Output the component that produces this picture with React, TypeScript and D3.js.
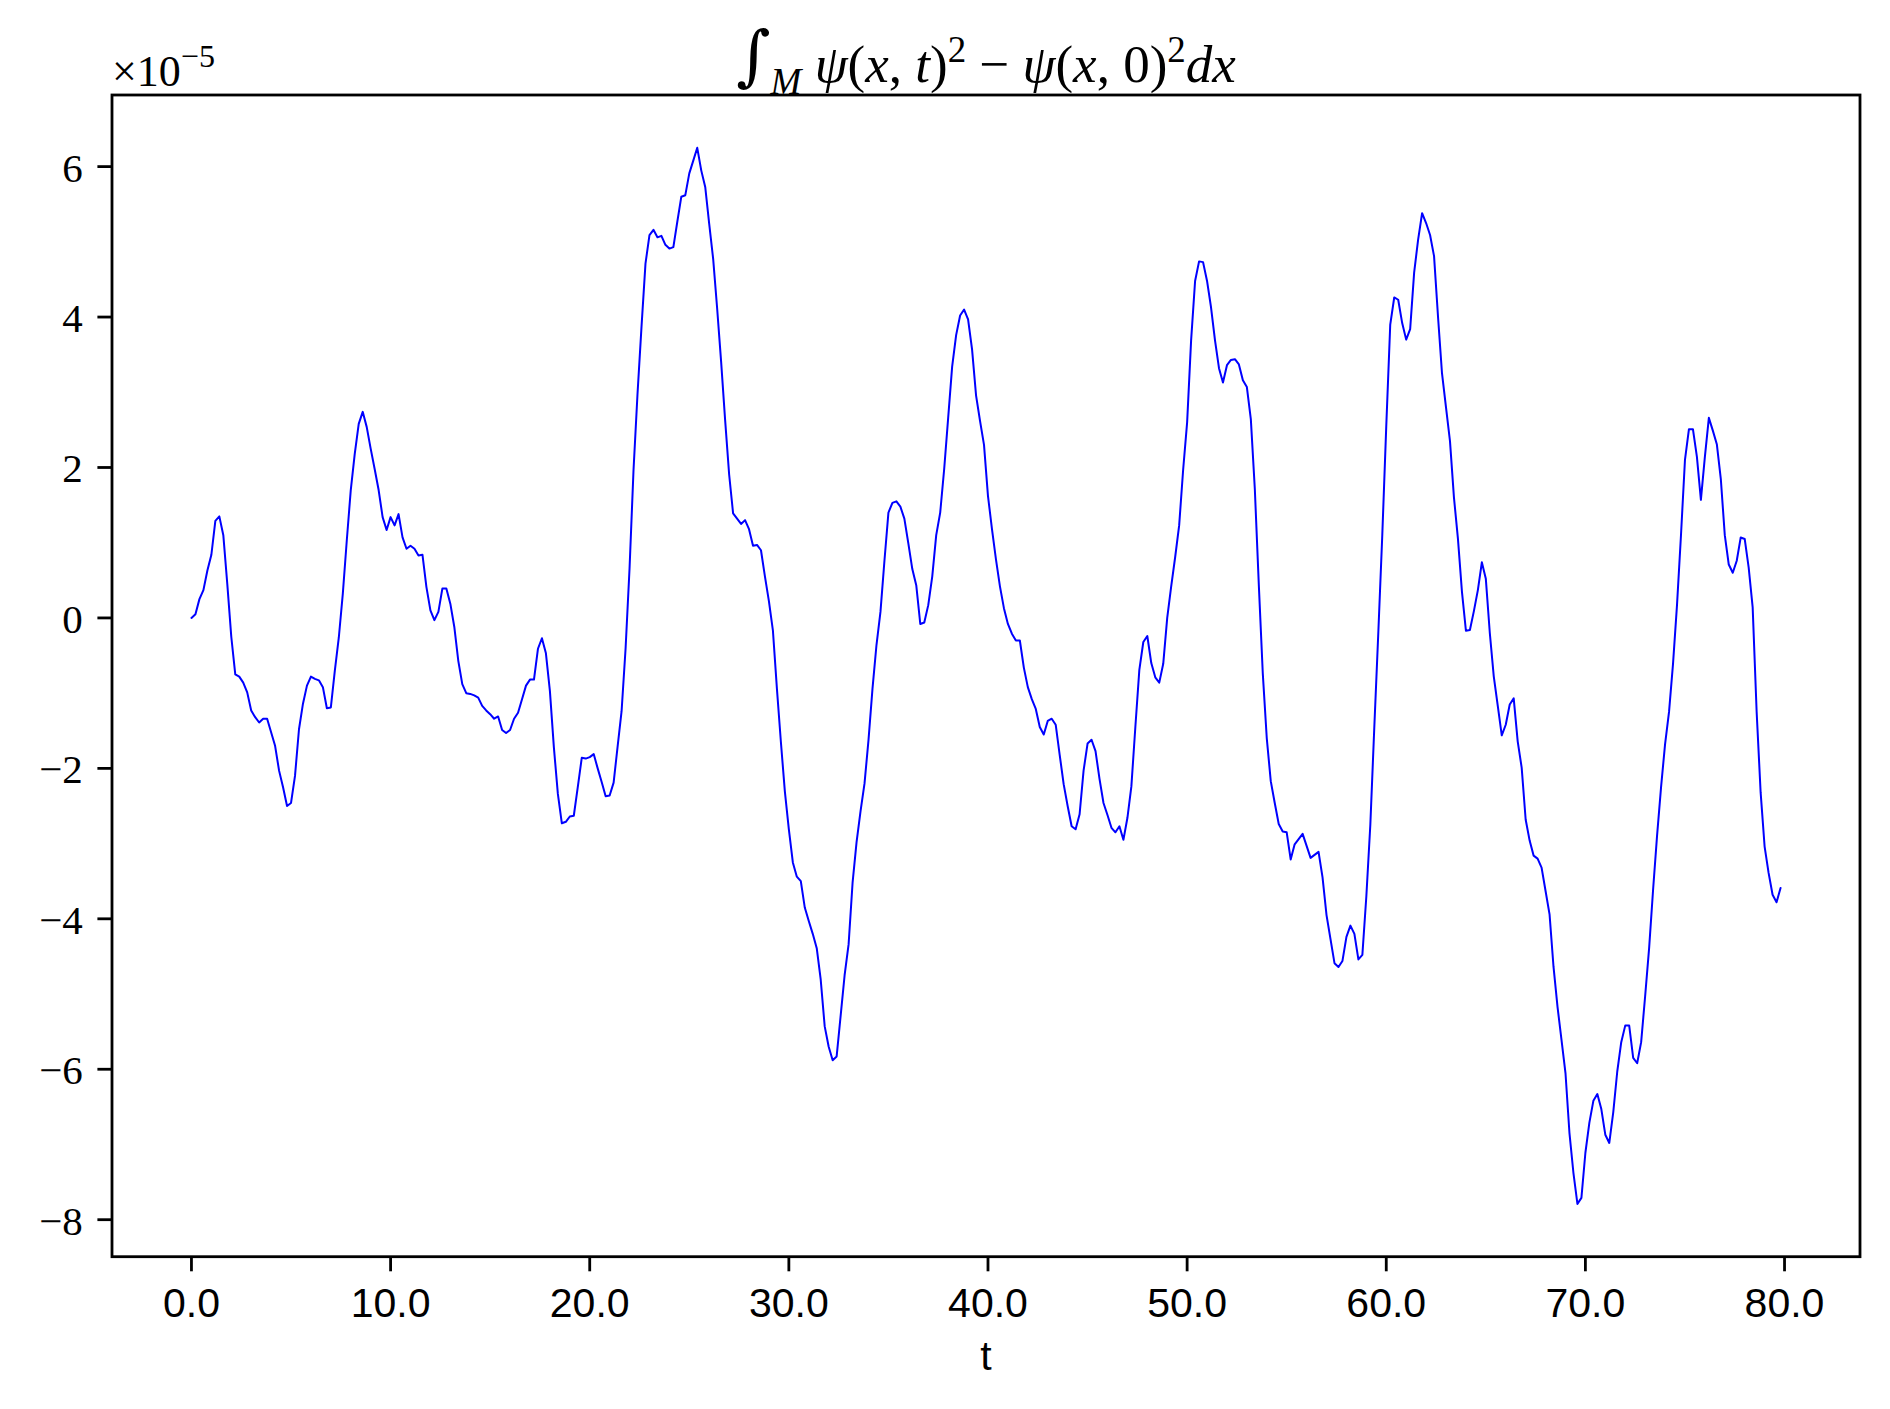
import React, { useEffect } from "react";
import * as d3 from "d3";

// Sampling step of the time series (t = 0.0, 0.2, ..., 79.8)
const T_STEP = 0.2;

// Values (×1e-5), one array per 10 time units
const psi00to10 = [
  0.0, 0.05, 0.25, 0.37, 0.63, 0.84, 1.29, 1.35, 1.1, 0.45,
  -0.25, -0.75, -0.78, -0.86, -0.99, -1.23, -1.32, -1.39, -1.34, -1.34,
  -1.52, -1.7, -2.03, -2.25, -2.5, -2.46, -2.1, -1.48, -1.14, -0.9,
  -0.78, -0.81, -0.83, -0.92, -1.2, -1.19, -0.7, -0.26, 0.32, 1.03,
  1.7, 2.18, 2.58, 2.74, 2.54, 2.25, 1.98, 1.7, 1.34, 1.17,
];
const psi10to20 = [
  1.34, 1.23, 1.38, 1.07, 0.92, 0.96, 0.92, 0.83, 0.84, 0.41,
  0.1, -0.03, 0.08, 0.39, 0.39, 0.19, -0.12, -0.57, -0.88, -1.0,
  -1.01, -1.03, -1.06, -1.17, -1.23, -1.28, -1.34, -1.31, -1.49, -1.53,
  -1.49, -1.34, -1.26, -1.08, -0.9, -0.82, -0.82, -0.41, -0.27, -0.47,
  -0.97, -1.72, -2.34, -2.73, -2.71, -2.64, -2.63, -2.25, -1.86, -1.87,
];
const psi20to30 = [
  -1.85, -1.81, -2.0, -2.18, -2.37, -2.36, -2.19, -1.71, -1.24, -0.41,
  0.66, 1.97, 2.98, 3.87, 4.71, 5.09, 5.16, 5.06, 5.08, 4.96,
  4.91, 4.93, 5.27, 5.6, 5.62, 5.91, 6.08, 6.25, 5.95, 5.73,
  5.24, 4.77, 4.11, 3.4, 2.63, 1.91, 1.39, 1.32, 1.25, 1.3,
  1.18, 0.96, 0.97, 0.9, 0.55, 0.22, -0.17, -0.94, -1.65, -2.31,
];
const psi30to40 = [
  -2.81, -3.25, -3.44, -3.5, -3.85, -4.03, -4.2, -4.39, -4.81, -5.43,
  -5.7, -5.88, -5.83, -5.29, -4.75, -4.34, -3.52, -2.98, -2.57, -2.2,
  -1.62, -0.94, -0.36, 0.08, 0.76, 1.4, 1.53, 1.55, 1.48, 1.32,
  0.99, 0.65, 0.43, -0.08, -0.06, 0.17, 0.55, 1.1, 1.4, 1.98,
  2.66, 3.34, 3.76, 4.02, 4.1, 3.97, 3.57, 2.96, 2.62, 2.3,
];
const psi40to50 = [
  1.62, 1.18, 0.78, 0.42, 0.13, -0.08, -0.21, -0.3, -0.3, -0.66,
  -0.92, -1.08, -1.21, -1.45, -1.55, -1.37, -1.34, -1.42, -1.82, -2.21,
  -2.5, -2.77, -2.81, -2.61, -2.03, -1.67, -1.62, -1.77, -2.14, -2.46,
  -2.62, -2.79, -2.85, -2.77, -2.95, -2.66, -2.24, -1.45, -0.69, -0.32,
  -0.24, -0.6, -0.79, -0.86, -0.61, 0.0, 0.42, 0.81, 1.23, 1.97,
];
const psi50to60 = [
  2.6, 3.69, 4.48, 4.74, 4.73, 4.48, 4.13, 3.69, 3.32, 3.13,
  3.36, 3.43, 3.44, 3.37, 3.16, 3.07, 2.64, 1.71, 0.44, -0.74,
  -1.6, -2.17, -2.46, -2.74, -2.84, -2.85, -3.21, -3.01, -2.94, -2.87,
  -3.03, -3.19, -3.15, -3.11, -3.45, -3.95, -4.27, -4.59, -4.64, -4.56,
  -4.24, -4.09, -4.2, -4.54, -4.48, -3.7, -2.75, -1.45, -0.2, 1.1,
];
const psi60to70 = [
  2.55, 3.9, 4.26, 4.23, 3.92, 3.7, 3.84, 4.59, 5.03, 5.38,
  5.25, 5.09, 4.81, 4.0, 3.25, 2.8, 2.35, 1.6, 1.05, 0.35,
  -0.17, -0.16, 0.09, 0.37, 0.74, 0.52, -0.2, -0.78, -1.17, -1.56,
  -1.42, -1.15, -1.07, -1.64, -1.99, -2.68, -2.96, -3.16, -3.2, -3.32,
  -3.63, -3.94, -4.64, -5.17, -5.61, -6.05, -6.85, -7.38, -7.79, -7.71,
];
const psi70to80 = [
  -7.11, -6.71, -6.42, -6.33, -6.53, -6.87, -6.98, -6.57, -6.03, -5.64,
  -5.42, -5.42, -5.85, -5.92, -5.64, -5.03, -4.39, -3.61, -2.89, -2.25,
  -1.68, -1.25, -0.61, 0.17, 1.1, 2.1, 2.51, 2.51, 2.14, 1.57,
  2.14, 2.66, 2.49, 2.31, 1.85, 1.1, 0.71, 0.6, 0.76, 1.07,
  1.05, 0.67, 0.14, -1.25, -2.32, -3.04, -3.39, -3.68, -3.78, -3.59,
];

const psiValues = [
  ...psi00to10, ...psi10to20, ...psi20to30, ...psi30to40,
  ...psi40to50, ...psi50to60, ...psi60to70, ...psi70to80,
];
const tValues = psiValues.map((_, i) => +(i * T_STEP).toFixed(1));

const xTicks = [0, 10, 20, 30, 40, 50, 60, 70, 80];
const yTicks = [-8, -6, -4, -2, 0, 2, 4, 6];

const W = 1890;
const H = 1409;
const LEFT = 112;
const RIGHT = 1860;
const TOP = 95;
const BOTTOM = 1256.7;
const TICK_LEN = 14.6;
const PAD = 14.6;
const AXIS_W = 2.8;

function padded(ext: [number, number], m = 0.05): [number, number] {
  const r = ext[1] - ext[0];
  return [ext[0] - r * m, ext[1] + r * m];
}

export default function App() {
  useEffect(() => {
    document.body.style.margin = "0";
    document.body.style.background = "white";
  }, []);

  const data = tValues.map((t, i) => ({ t, v: psiValues[i] }));
  const x = d3
    .scaleLinear()
    .domain(padded(d3.extent(tValues) as [number, number]))
    .range([LEFT, RIGHT]);
  const y = d3
    .scaleLinear()
    .domain(padded(d3.extent(psiValues) as [number, number]))
    .range([BOTTOM, TOP]);

  const line = d3
    .line<{ t: number; v: number }>()
    .x((d) => x(d.t))
    .y((d) => y(d.v));

  const fmtX = d3.format(".1f");
  const fmtY = (v: number) => (v < 0 ? "\u2212" + Math.abs(v) : String(v));

  const serif = "'Liberation Serif', 'DejaVu Serif', serif";
  const sans = "'Liberation Sans', Arial, Helvetica, sans-serif";
  const cx = (LEFT + RIGHT) / 2;

  return (
    <svg
      width={W}
      height={H}
      style={{ position: "absolute", left: 0, top: 0, display: "block" }}
    >
      <rect x={0} y={0} width={W} height={H} fill="white" />
      <defs>
        <clipPath id="plotclip">
          <rect x={LEFT} y={TOP} width={RIGHT - LEFT} height={BOTTOM - TOP} />
        </clipPath>
      </defs>
      <path
        d={line(data) || ""}
        fill="none"
        stroke="#0000ff"
        strokeWidth={2}
        strokeLinejoin="round"
        strokeLinecap="round"
        clipPath="url(#plotclip)"
      />
      <rect
        x={LEFT}
        y={TOP}
        width={RIGHT - LEFT}
        height={BOTTOM - TOP}
        fill="none"
        stroke="black"
        strokeWidth={AXIS_W}
      />
      {xTicks.map((t) => (
        <g key={"xt" + t}>
          <line
            x1={x(t)}
            x2={x(t)}
            y1={BOTTOM}
            y2={BOTTOM + TICK_LEN}
            stroke="black"
            strokeWidth={AXIS_W}
          />
          <text
            x={x(t)}
            y={1316.7}
            textAnchor="middle"
            fontFamily={sans}
            fontSize={41}
            fill="black"
          >
            {fmtX(t)}
          </text>
        </g>
      ))}
      {yTicks.map((v) => (
        <g key={"yt" + v}>
          <line
            x1={LEFT - TICK_LEN}
            x2={LEFT}
            y1={y(v)}
            y2={y(v)}
            stroke="black"
            strokeWidth={AXIS_W}
          />
          <text
            x={LEFT - TICK_LEN - PAD}
            y={y(v) + 15}
            textAnchor="end"
            fontFamily={serif}
            fontSize={41}
            fill="black"
          >
            {fmtY(v)}
          </text>
        </g>
      ))}
      <text
        x={cx}
        y={1370}
        textAnchor="middle"
        fontFamily={sans}
        fontSize={41}
        fill="black"
      >
        t
      </text>
      <text x={LEFT} y={86} fontFamily={serif} fontSize={44} fill="black">
        ×10
        <tspan fontSize={32} dy={-19}>
          −5
        </tspan>
      </text>
      <text
        x={cx}
        y={82}
        textAnchor="middle"
        fontFamily={serif}
        fontSize={53}
        fill="black"
      >
        <tspan fontSize={66} dy={-4} fontFamily="'DejaVu Serif', serif">
          ∫
        </tspan>
        <tspan fontStyle="italic" fontSize={37} dy={16}>
          M
        </tspan>
        <tspan dy={-12}> </tspan>
        <tspan fontStyle="italic">ψ</tspan>
        <tspan>(</tspan>
        <tspan fontStyle="italic">x</tspan>
        <tspan>, </tspan>
        <tspan fontStyle="italic">t</tspan>
        <tspan>)</tspan>
        <tspan fontSize={37} dy={-20}>
          2
        </tspan>
        <tspan dy={20}> − </tspan>
        <tspan fontStyle="italic">ψ</tspan>
        <tspan>(</tspan>
        <tspan fontStyle="italic">x</tspan>
        <tspan>, 0)</tspan>
        <tspan fontSize={37} dy={-20}>
          2
        </tspan>
        <tspan fontStyle="italic" dy={20}>
          dx
        </tspan>
      </text>
    </svg>
  );
}
